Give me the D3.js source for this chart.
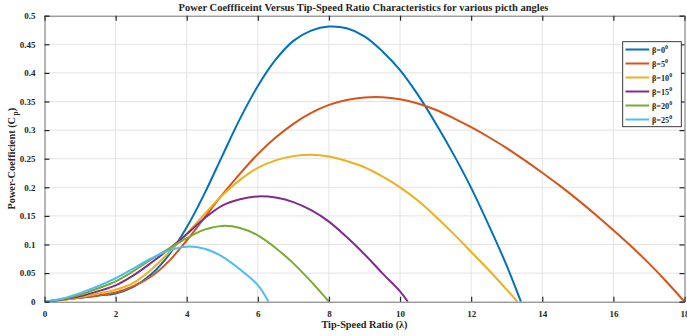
<!DOCTYPE html>
<html>
<head>
<meta charset="utf-8">
<script src="https://cdn.jsdelivr.net/npm/d3@7"></script>
<style>
  html, body { margin: 0; padding: 0; background: #fff; }
  svg { display: block; }
  text { font-family: "Liberation Serif", "Times New Roman", serif; font-weight: bold; fill: #262626; }
</style>
</head>
<body>
<svg id="chart" width="687" height="336"></svg>
<script>
// ---- DATA ----
const seriesNames = ["β=0", "β=5", "β=10", "β=15", "β=20", "β=25"];
const seriesColors = ["#0072BD", "#D95319", "#EDB120", "#7E2F8E", "#77AC30", "#4DBEEE"];

const lambdaBeta0 = [0,0.5,1,1.5,2,2.5,3,3.5,4,4.5,5,5.5,6,6.5,7,7.5,8,8.5,9,9.5,10,10.5,11,11.5,12,12.5,13,13.4];
const cpBeta0     = [0,0.0034,0.0068,0.0105,0.0145,0.026,0.048,0.082,0.13,0.189,0.255,0.32,0.377,0.423,0.456,0.474,0.481,0.478,0.464,0.438,0.405,0.362,0.312,0.258,0.199,0.133,0.063,0];

const lambdaBeta5 = [0,0.5,1,1.5,2,2.5,3,3.5,4,4.5,5,5.5,6,6.5,7,7.5,8,8.5,9,9.5,10,10.5,11,11.5,12,12.5,13,13.5,14,14.5,15,15.5,16,16.5,17,17.5,18];
const cpBeta5     = [0,0.0035,0.007,0.011,0.016,0.027,0.044,0.071,0.107,0.147,0.187,0.224,0.258,0.287,0.311,0.33,0.344,0.3525,0.357,0.3575,0.354,0.3465,0.3355,0.321,0.305,0.2875,0.2685,0.2475,0.2255,0.2025,0.178,0.152,0.125,0.097,0.067,0.0345,0];

const lambdaBeta10 = [0,0.5,1,1.5,2,2.5,3,3.5,4,4.5,5,5.5,6,6.5,7,7.5,8,8.5,9,9.5,10,10.5,11,11.5,12,12.5,13,13.3];
const cpBeta10     = [0,0.003,0.008,0.014,0.021,0.033,0.056,0.086,0.119,0.153,0.186,0.213,0.234,0.247,0.2545,0.257,0.254,0.246,0.235,0.219,0.2,0.177,0.149,0.119,0.087,0.055,0.021,0];

const lambdaBeta15 = [0,0.5,1,1.5,2,2.5,3,3.5,4,4.5,5,5.5,6,6.5,7,7.5,8,8.5,9,9.5,10,10.22];
const cpBeta15     = [0,0.004,0.0095,0.018,0.0285,0.046,0.068,0.092,0.118,0.146,0.168,0.179,0.184,0.182,0.174,0.16,0.14,0.113,0.083,0.05,0.018,0];

const lambdaBeta20 = [0,0.5,1,1.5,2,2.5,3,3.5,4,4.5,5,5.5,6,6.5,7,7.5,8];
const cpBeta20     = [0,0.0045,0.012,0.023,0.0355,0.0535,0.074,0.093,0.111,0.126,0.1325,0.129,0.116,0.094,0.067,0.035,0];

const lambdaBeta25 = [0,0.5,1,1.5,2,2.5,3,3.5,4,4.5,5,5.5,6,6.3];
const cpBeta25     = [0,0.0055,0.015,0.027,0.041,0.058,0.0755,0.0895,0.0962,0.0925,0.079,0.0565,0.029,0];

const xTicks = [0,2,4,6,8,10,12,14,16,18];
const yTicks = [0,0.05,0.1,0.15,0.2,0.25,0.3,0.35,0.4,0.45,0.5];
const yTickLabels = ["0","0.05","0.1","0.15","0.2","0.25","0.3","0.35","0.4","0.45","0.5"];

const titleText = "Power Coeffficeint Versus Tip-Speed Ratio Characteristics for various picth angles";
const xLabelText = "Tip-Speed Ratio (λ)";

// ---- BUILD ----
const lambdaSets = [lambdaBeta0, lambdaBeta5, lambdaBeta10, lambdaBeta15, lambdaBeta20, lambdaBeta25];
const cpSets = [cpBeta0, cpBeta5, cpBeta10, cpBeta15, cpBeta20, cpBeta25];
const series = seriesNames.map((n, i) => ({
  name: n, color: seriesColors[i],
  pts: lambdaSets[i].map((l, j) => [l, cpSets[i][j]])
}));

const svg = d3.select("#chart");
const L = 44.5, R = 684.5, T = 15.7, B = 301.7;
const x = d3.scaleLinear().domain([0, 18]).range([L, R]);
const y = d3.scaleLinear().domain([0, 0.5]).range([B, T]);

// grid
const grid = svg.append("g");
grid.selectAll(".gx").data(xTicks.slice(1, -1)).join("line")
  .attr("x1", d => x(d)).attr("x2", d => x(d)).attr("y1", T).attr("y2", B)
  .attr("stroke", "#e3e3e3").attr("stroke-width", 1);
grid.selectAll(".gy").data(yTicks.slice(1, -1)).join("line")
  .attr("y1", d => y(d)).attr("y2", d => y(d)).attr("x1", L).attr("x2", R)
  .attr("stroke", "#e3e3e3").attr("stroke-width", 1);

// lines
const clipId = "plotclip";
svg.append("clipPath").attr("id", clipId).append("rect")
  .attr("x", L).attr("y", T - 2).attr("width", R - L).attr("height", B - T + 2);
const line = d3.line().x(d => x(d[0])).y(d => y(d[1])).curve(d3.curveCatmullRom.alpha(0.5));
svg.append("g").attr("clip-path", `url(#${clipId})`)
  .selectAll("path").data(series).join("path")
  .attr("d", d => line(d.pts))
  .attr("fill", "none").attr("stroke", d => d.color).attr("stroke-width", 2)
  .attr("stroke-linejoin", "round");

// axes (MATLAB box style, inward ticks)
const tickLen = 5;
const axBottom = d3.axisBottom(x).tickValues(xTicks).tickSize(-tickLen).tickPadding(tickLen + 4).tickFormat(d3.format("d"));
const axTop = d3.axisTop(x).tickValues(xTicks).tickSize(-tickLen).tickFormat("");
const axLeft = d3.axisLeft(y).tickValues(yTicks).tickSize(-tickLen).tickPadding(tickLen + 4).tickFormat((d, i) => yTickLabels[i]);
const axRight = d3.axisRight(y).tickValues(yTicks).tickSize(-tickLen).tickFormat("");

function style(g) {
  g.select(".domain").attr("stroke", "#6e6e6e").attr("stroke-width", 1);
  g.selectAll(".tick line").attr("stroke", "#262626").attr("stroke-width", 1.2);
  g.selectAll(".tick text").attr("font-family", "Liberation Serif, serif").attr("font-weight", "bold")
    .attr("font-size", 9).attr("fill", "#262626");
}
svg.append("g").attr("transform", `translate(0,${B})`).call(axBottom).call(style);
svg.append("g").attr("transform", `translate(0,${T})`).call(axTop).call(style);
svg.append("g").attr("transform", `translate(${L},0)`).call(axLeft).call(style);
svg.append("g").attr("transform", `translate(${R},0)`).call(axRight).call(style);

// title
svg.append("text").attr("x", 363.5).attr("y", 11).attr("text-anchor", "middle")
  .attr("font-size", 10.5).text(titleText);

// x label
svg.append("text").attr("x", (L + R) / 2).attr("y", 327.5).attr("text-anchor", "middle")
  .attr("font-size", 10.3).text(xLabelText);

// y label
const yl = svg.append("text").attr("transform", `translate(15,${(T + B) / 2}) rotate(-90)`)
  .attr("text-anchor", "middle").attr("font-size", 10.3);
yl.append("tspan").text("Power-Coefficient (C");
yl.append("tspan").attr("font-size", 7.5).attr("dy", 2.5).attr("dx", 1.5).text("p");
yl.append("tspan").attr("dy", -2.5).text(")");

// legend
const lg = svg.append("g");
const lx = 622.7, ly = 41.7, lw = 58.6, lh = 85;
lg.append("rect").attr("x", lx).attr("y", ly).attr("width", lw).attr("height", lh)
  .attr("fill", "#fff").attr("stroke", "#262626").attr("stroke-width", 0.9);
const items = lg.selectAll("g.item").data(series).join("g")
  .attr("transform", (d, i) => `translate(0,${49.5 + i * 14})`);
items.append("line").attr("x1", 625.5).attr("x2", 649.3).attr("y1", 0).attr("y2", 0)
  .attr("stroke", d => d.color).attr("stroke-width", 2);
const it = items.append("text").attr("x", 652).attr("y", 3).attr("font-size", 8.2);
it.append("tspan").text(d => d.name);
it.append("tspan").attr("font-size", 6).attr("dy", -3.5).text("0");
</script>
</body>
</html>
